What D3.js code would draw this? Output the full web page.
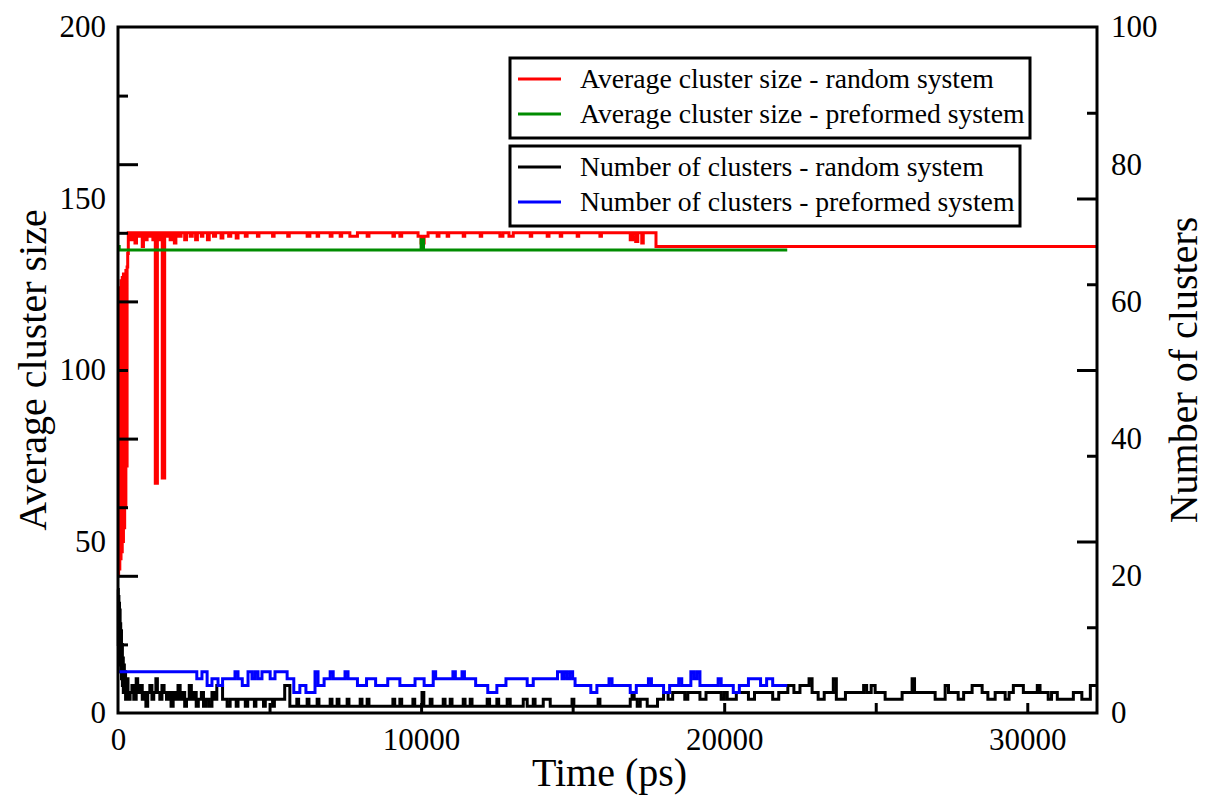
<!DOCTYPE html>
<html>
<head>
<meta charset="utf-8">
<script src="https://cdn.jsdelivr.net/npm/d3@7"></script>
<style>
  body { margin: 0; background: #fff; }
</style>
</head>
<body>
<div id="chart"></div>
<script>
// ---------------------------
// Data: [time (ps), value] change points, drawn as steps
// ---------------------------
const sizeRandom = [
  [0,40],[20,120],[40,42],[60,124],[80,45],[100,126],[120,47],[140,127],[160,50],[180,128],[200,54],
  [220,128],[240,60],[260,129],[280,72],[300,130],[320,134],[340,140],
  [420,138],[470,140],[560,137],[610,140],[690,139],[730,140],[800,136],[840,140],[910,138],[960,140],
  [1030,139],[1080,140],[1150,138],[1200,140],[1230,67],[1300,140],[1360,138],[1420,140],[1460,68.5],[1540,140],
  [1600,139],[1650,140],[1720,138],[1770,140],[1860,137],[1910,140],[2000,139],[2080,140],[2200,138],[2260,140],
  [2380,139],[2450,140],[2560,138],[2620,140],[2750,139],[2800,140],[2950,138],[3010,140],[3150,139],[3220,140],
  [3400,138.5],[3460,140],[3650,139],[3720,140],[3900,138.5],[3960,140],[4200,139],[4260,140],[4600,139],[4650,140],
  [5100,139],[5150,140],[5600,139],[5650,140],[6240,139],[6330,140],[6570,139],[6620,140],[7000,139],[7060,140],
  [7330,139],[7380,140],[7650,139],[7900,140],[8220,139],[8280,140],[9070,139],[9120,140],[9300,139],[9360,140],
  [9900,139],[10000,137],[10100,139],[10230,140],[10530,139],[10590,140],[10860,139],[10910,140],[11390,139],[11440,140],
  [11950,139],[12000,140],[12600,139],[12700,140],[12900,139],[13040,140],[13600,139],[13650,140],[14160,139],[14220,140],
  [14590,139],[14640,140],[15150,139],[15200,140],[15900,139],[15950,140],[16900,138],[16980,140],[17080,137.5],[17150,140],
  [17280,137],[17330,140],[17750,136],[32300,136]
];

const sizePreformed = [[0,136],[40,135],[10000,138],[10080,135],[22080,135]];

const numRandom = [
  [0,18],[10,10],[20,17],[30,8],[40,16],[50,9],[60,15],[70,7],[80,13],[90,6],[100,12],[115,5],[130,10],
  [145,4],[160,8],[175,3],[190,7],[210,3],[230,6],[250,2],[270,5],[290,3],[310,5],[330,2],
  [400,3],[460,4],[520,2],[600,5],[650,3],[720,4],[800,2],
  [860,3],[920,1],[980,3],[1050,4],[1120,2],[1180,3],[1250,5],[1300,3],[1380,2],[1450,4],[1520,3],[1600,2],
  [1680,3],[1750,1],[1820,3],[1900,2],[1980,4],[2050,2],[2120,3],[2200,1],[2260,2],[2350,4],[2420,2],[2500,3],
  [2580,1],[2650,2],[2750,3],[2820,1],[2900,2],[3000,1],[3100,3],[3180,2],[3260,4],[3450,2],[3600,1],[3700,2],
  [3900,1],[3960,2],[4200,1],[4280,2],[4500,1],[4550,2],[4800,1],[4860,2],[5100,1],[5160,2],[5500,4],[5670,1],
  [5900,2],[5960,1],[6240,2],[6300,1],[6570,2],[6630,1],[7000,2],[7060,1],[7230,2],[7290,1],[7560,2],[7620,1],
  [7990,2],[8050,1],[8220,2],[8280,1],[9070,2],[9130,1],[9300,2],[9360,1],[9730,2],[9790,1],[10030,3],[10090,1],
  [10300,2],[10360,1],[10730,2],[10790,1],[10960,2],[11020,1],[11390,2],[11450,1],[11620,2],[11680,1],[12180,2],
  [12260,1],[12500,2],[12560,1],[12840,2],[12940,1],[13370,2],[13500,1],[13700,2],[13760,1],[14030,2],[14260,1],
  [14980,2],[15040,1],[15840,2],[15900,1],[16900,2],[16960,3],[17030,2],[17130,1],[17230,2],[17460,1],
  [17800,2],[18000,3],[18150,2],[18300,3],[18700,2],[18800,3],[19200,2],[19400,3],[19900,2],[20000,3],[20100,2],
  [20400,3],[20800,2],[21000,3],[21600,2],[21800,3],[22100,4],[22300,3],[22500,4],[22800,5],[22900,3],[23100,2],
  [23300,3],[23600,5],[23700,2],[24000,3],[24490,3],[24600,4],[24700,3],[24850,4],[24980,3],[25310,2],[25870,3],
  [26200,5],[26280,3],[26960,2],[27290,4],[27400,3],[27720,2],[27900,3],[28180,4],[28510,3],[28700,2],[28940,3],
  [29270,2],[29400,3],[29540,4],[29870,3],[30330,4],[30420,3],[30690,2],[30800,3],[30990,2],[31520,3],[31800,2],
  [32080,4],[32300,4]
];

const numPreformed = [
  [0,6],[2600,5],[2770,6],[2940,4],[3100,5],[3300,4],[3450,5],[3860,6],[3960,5],[4100,4],[4290,6],[4420,5],
  [4520,6],[4620,5],[4750,6],[5020,5],[5180,6],[5580,5],[5800,3],[6000,4],[6200,3],[6500,6],[6600,4],[6800,5],
  [7000,6],[7100,5],[7490,6],[7590,5],[7900,4],[8200,5],[8500,4],[8900,5],[9300,4],[9800,5],[10100,4],[10400,6],
  [10480,5],[11050,6],[11130,5],[11350,6],[11430,5],[11800,4],[12200,3],[12500,4],[12800,5],[13500,4],[13700,5],
  [14500,6],[14650,5],[14700,6],[14800,5],[14900,6],[15000,5],[15080,4],[15600,3],[15800,4],[16200,5],[16300,4],
  [16900,3],[17100,4],[17500,5],[17600,4],[18000,3],[18200,4],[18500,5],[18600,4],[18900,6],[19000,5],[19100,6],
  [19200,4],[19800,5],[19900,4],[20300,3],[20500,4],[20800,5],[21200,4],[21400,5],[21600,4],[22080,4]
];

const leftTicks = [0, 50, 100, 150, 200];
const rightTicks = [0, 20, 40, 60, 80, 100];
const timeTicks = [0, 10000, 20000, 30000];

const legendTop = [
  { label: "Average cluster size - random system", color: "#ff0000" },
  { label: "Average cluster size - preformed system", color: "#008c00" }
];
const legendBottom = [
  { label: "Number of clusters - random system", color: "#000000" },
  { label: "Number of clusters - preformed system", color: "#0000ff" }
];

// ---------------------------
// Layout
// ---------------------------
const width = 1208;
const height = 798;
const plotL = 118, plotR = 1097, plotT = 27, plotB = 713;
const serif = "'Liberation Serif', 'Times New Roman', Times, serif";

const svg = d3.select("#chart")
  .append("svg")
  .attr("width", width)
  .attr("height", height)
  .style("font-family", serif);

const x = d3.scaleLinear().domain([0, 32300]).range([plotL, plotR]);
const yL = d3.scaleLinear().domain([0, 200]).range([plotB, plotT]);
const yR = d3.scaleLinear().domain([0, 100]).range([plotB, plotT]);

// ---------------------------
// Lines
// ---------------------------
const lineL = d3.line().x(d => x(d[0])).y(d => yL(d[1])).curve(d3.curveStepAfter);
const lineR = d3.line().x(d => x(d[0])).y(d => yR(d[1])).curve(d3.curveStepAfter);

const series = [
  { data: sizeRandom, line: lineL, color: "#ff0000" },
  { data: sizePreformed, line: lineL, color: "#008c00" },
  { data: numRandom, line: lineR, color: "#000000" },
  { data: numPreformed, line: lineR, color: "#0000ff" }
];

svg.append("g")
  .selectAll("path")
  .data(series)
  .join("path")
  .attr("d", d => d.line(d.data))
  .attr("fill", "none")
  .attr("stroke", d => d.color)
  .attr("stroke-width", 3);

// ---------------------------
// Axes (ticks are mirrored: left scale ticks on the right side and vice versa)
// ---------------------------
function clean(g) {
  g.select(".domain").remove();
  g.attr("font-family", null).attr("font-size", null);
  g.selectAll("text")
    .style("font-family", serif)
    .attr("font-size", 31)
    .attr("fill", "#000");
}

// left scale ticks, drawn inward from the right edge
svg.append("g")
  .attr("transform", `translate(${plotR},0)`)
  .call(d3.axisLeft(yL).tickValues([50, 100, 150]).tickSize(20).tickFormat(""))
  .call(clean);
svg.append("g")
  .attr("transform", `translate(${plotR},0)`)
  .call(d3.axisLeft(yL).tickValues([25, 75, 125, 175]).tickSize(10).tickFormat(""))
  .call(clean);

// right scale ticks, drawn inward from the left edge
svg.append("g")
  .attr("transform", `translate(${plotL},0)`)
  .call(d3.axisRight(yR).tickValues([20, 40, 60, 80]).tickSize(20).tickFormat(""))
  .call(clean);
svg.append("g")
  .attr("transform", `translate(${plotL},0)`)
  .call(d3.axisRight(yR).tickValues([10, 30, 50, 70, 90]).tickSize(10).tickFormat(""))
  .call(clean);

// time ticks, drawn upward from the bottom edge
svg.append("g")
  .attr("transform", `translate(0,${plotB})`)
  .call(d3.axisTop(x).tickValues([5000, 10000, 15000, 20000, 25000, 30000]).tickSize(10).tickFormat(""))
  .call(clean);

svg.selectAll(".tick line").attr("stroke", "#000").attr("stroke-width", 3);

// tick labels
svg.append("g")
  .attr("transform", `translate(${plotL},0)`)
  .call(d3.axisLeft(yL).tickValues(leftTicks).tickFormat(d3.format("d")).tickSize(0).tickPadding(12))
  .call(clean);

svg.append("g")
  .attr("transform", `translate(${plotR},0)`)
  .call(d3.axisRight(yR).tickValues(rightTicks).tickFormat(d3.format("d")).tickSize(0).tickPadding(14))
  .call(clean);

svg.append("g")
  .attr("transform", `translate(0,${plotB})`)
  .call(d3.axisBottom(x).tickValues(timeTicks).tickFormat(d3.format("d")).tickSize(0).tickPadding(15))
  .call(clean);

// frame
svg.append("rect")
  .attr("x", plotL).attr("y", plotT)
  .attr("width", plotR - plotL).attr("height", plotB - plotT)
  .attr("fill", "none").attr("stroke", "#000").attr("stroke-width", 3);

// ---------------------------
// Axis titles
// ---------------------------
svg.append("text")
  .attr("x", (plotL + plotR) / 2 + 2)
  .attr("y", 786)
  .attr("text-anchor", "middle")
  .attr("font-size", 40)
  .style("font-family", serif)
  .text("Time (ps)");

svg.append("text")
  .attr("transform", `translate(46,370) rotate(-90)`)
  .attr("text-anchor", "middle")
  .attr("font-size", 40)
  .style("font-family", serif)
  .text("Average cluster size");

svg.append("text")
  .attr("transform", `translate(1197,370) rotate(-90)`)
  .attr("text-anchor", "middle")
  .attr("font-size", 40)
  .style("font-family", serif)
  .text("Number of clusters");

// ---------------------------
// Legends
// ---------------------------
function drawLegend(items, bx, by, bw, bh) {
  const g = svg.append("g").attr("transform", `translate(${bx},${by})`);
  g.append("rect")
    .attr("width", bw).attr("height", bh)
    .attr("fill", "#fff").attr("stroke", "#000").attr("stroke-width", 3);
  const item = g.selectAll("g")
    .data(items)
    .join("g")
    .attr("transform", (d, i) => `translate(0, ${21 + i * 35})`);
  item.append("line")
    .attr("x1", 8).attr("x2", 51)
    .attr("stroke", d => d.color).attr("stroke-width", 3);
  item.append("text")
    .attr("x", 70)
    .attr("y", 9)
    .attr("font-size", 27.7)
    .style("font-family", serif)
    .text(d => d.label);
}

drawLegend(legendTop, 510, 58, 520, 80);
drawLegend(legendBottom, 510, 146, 510, 80);
</script>
</body>
</html>
